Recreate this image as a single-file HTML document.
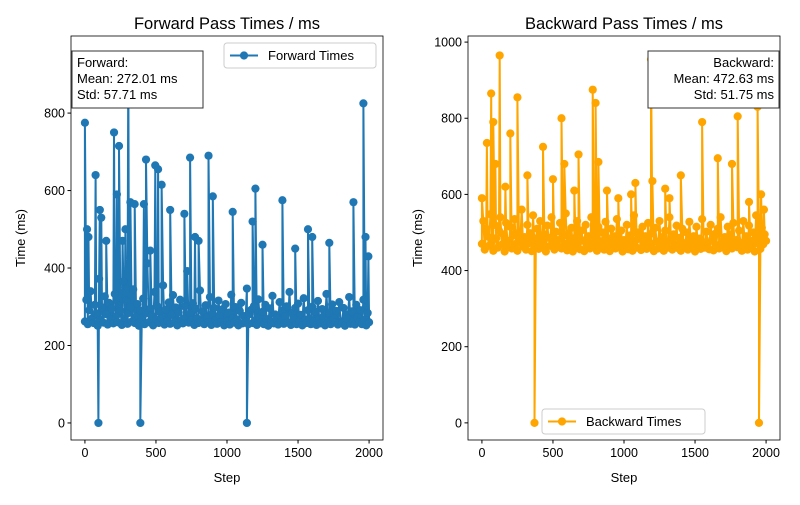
<!DOCTYPE html>
<html><head><meta charset="utf-8"><style>
body{margin:0;background:#fff}
svg{font-family:"Liberation Sans","DejaVu Sans",sans-serif}
</style></head><body>
<svg id="chart" width="800" height="500" viewBox="0 0 800 500" xmlns="http://www.w3.org/2000/svg"></svg>
<script>
// Forward baseline, one value every 10 steps (0..2000)
const fwdBase=[262,318,255,291,340,270,258,305,283,251,372,266,298,259,327,281,254,310,268,295,
257,333,276,260,302,289,253,365,271,316,256,284,299,262,345,258,274,307,251,290,
269,321,255,283,412,260,296,278,252,338,267,301,258,287,270,355,254,293,263,311,
256,279,330,261,298,252,286,318,266,257,301,274,392,259,283,264,309,253,295,270,
258,342,262,288,255,304,271,260,325,253,282,297,265,256,316,278,260,294,252,307,
263,285,254,331,270,259,299,267,252,289,310,257,276,263,347,255,281,292,258,302,
265,253,319,273,260,287,255,305,268,251,296,262,328,257,280,271,254,312,264,290,
256,276,301,259,338,253,284,269,297,255,308,262,279,252,322,266,258,291,270,255,
300,261,287,253,315,268,257,294,276,252,333,260,283,255,306,271,259,289,254,312,
262,258,297,251,280,269,325,256,288,263,254,305,273,260,291,255,318,266,252,284,260];
const fwdSpikeSteps=[0,15,25,75,95,105,115,150,205,225,240,265,285,305,320,350,390,415,430,460,495,515,540,600,700,740,775,800,870,900,1040,1140,1180,1200,1250,1390,1480,1570,1600,1720,1890,1960,1975,1995];
const fwdSpikeValues=[775,500,480,640,0,550,530,470,750,590,715,470,500,950,570,565,0,565,680,445,665,655,615,550,540,685,480,470,690,585,545,0,520,605,460,575,450,500,480,465,570,825,480,430];
// Backward baseline, one value every 10 steps
const bwdBase=[470,530,455,510,490,465,548,475,452,520,485,460,505,540,468,495,450,525,478,462,
515,458,492,535,470,452,500,480,560,463,488,455,520,472,498,451,545,466,484,510,
457,530,475,461,495,450,518,486,465,540,473,455,502,480,462,525,458,490,470,550,
453,498,468,512,450,485,462,530,474,456,505,479,451,520,467,490,458,540,472,460,
495,452,515,477,463,500,455,528,470,484,451,510,466,490,458,535,475,462,505,450,
480,465,520,456,492,470,452,545,478,460,500,485,454,515,468,490,457,525,473,462,
498,451,512,476,458,530,466,488,452,505,470,460,540,482,455,495,468,518,459,486,
452,510,472,461,500,455,528,479,463,490,450,515,468,484,457,535,474,460,502,470,
456,520,482,453,496,467,510,458,540,475,462,488,451,515,470,495,458,525,466,480,
461,505,473,452,530,468,490,455,518,478,463,500,450,545,472,486,457,512,469,495,478];
const bwdSpikeSteps=[0,35,65,80,95,125,165,200,250,320,370,430,500,560,580,650,680,780,800,820,880,960,1050,1080,1190,1200,1290,1320,1400,1550,1660,1760,1800,1880,1940,1950,1965,1985];
const bwdSpikeValues=[590,735,865,790,680,965,620,760,855,650,0,725,640,800,680,610,705,875,840,685,610,590,600,630,955,635,615,590,650,790,695,680,805,580,830,0,600,560];
const baseStep=10;
const fwdStats=["Forward:","Mean: 272.01 ms","Std: 57.71 ms"];
const bwdStats=["Backward:","Mean: 472.63 ms","Std: 51.75 ms"];
const xTicks=[0,500,1000,1500,2000];
const yTicksL=[0,200,400,600,800];
const yTicksR=[0,200,400,600,800,1000];
const svg=document.getElementById('chart');
const NS="http://www.w3.org/2000/svg";
function mk(tag,attrs,parent,text){const e=document.createElementNS(NS,tag);for(const k in attrs)e.setAttribute(k,attrs[k]);if(text!==undefined)e.textContent=text;(parent||svg).appendChild(e);return e;}
function merge(base,ss,sv){
  const pts=base.map((v,i)=>({s:i*baseStep,v:v,o:0}));
  ss.forEach((s,i)=>pts.push({s:s,v:sv[i],o:1}));
  pts.sort((a,b)=>a.s-b.s||a.o-b.o);
  return pts;
}
function panel(o){
  const g=mk('g',{});
  
  
  const sx=v=>o.x0+(v-o.xmin)/(o.xmax-o.xmin)*(o.x1-o.x0);
  const sy=v=>o.y1-(v-o.ymin)/(o.ymax-o.ymin)*(o.y1-o.y0);
  const pts=o.points;
  let d='';
  pts.forEach((p,i)=>{d+=(i?'L':'M')+sx(p.s).toFixed(1)+','+sy(p.v).toFixed(1);});
  const line=mk('path',{d:d,fill:'none',stroke:o.color,'stroke-width':2},g);
  
  
  pts.forEach(p=>{
    const c=mk('circle',{cx:sx(p.s),cy:sy(p.v),r:4.1,fill:o.color},g);
    
    
  });
  const frame=mk('rect',{x:o.x0,y:o.y0,width:o.x1-o.x0,height:o.y1-o.y0,fill:'none',stroke:'#000','stroke-width':0.8},g);
  
  
  xTicks.forEach(t=>{const x=sx(t);mk('line',{x1:x,x2:x,y1:o.y1,y2:o.y1+3.5,stroke:'#000'},g);
    const tl=mk('text',{x:x,y:o.y1+17,'font-size':12.5,'text-anchor':'middle'},g,t);
    });
  o.yTicks.forEach(t=>{const y=sy(t);mk('line',{x1:o.x0-3.5,x2:o.x0,y1:y,y2:y,stroke:'#000'},g);
    const tl=mk('text',{x:o.x0-6,y:y+4.5,'font-size':12.5,'text-anchor':'end'},g,t);
    });
  const title=mk('text',{x:(o.x0+o.x1)/2,y:29,'font-size':16.5,'text-anchor':'middle'},g,o.title);
  
  const xl=mk('text',{x:(o.x0+o.x1)/2,y:482,'font-size':13,'text-anchor':'middle'},g,'Step');
  
  const yx=o.x0-46, yy=(o.y0+o.y1)/2;
  const yl=mk('text',{x:yx,y:yy,'font-size':13,'text-anchor':'middle',transform:`rotate(-90 ${yx} ${yy})`},g,'Time (ms)');
  
  const sb=o.stats;
  const box=mk('rect',{x:sb.x,y:sb.y,width:131,height:57,fill:'#fff',stroke:'#333','stroke-width':1},g);
  
  o.statsText.forEach((s,i)=>{
    const t=mk('text',{x:sb.right?sb.x+126:sb.x+5,y:sb.y+16+i*16,'font-size':13,'text-anchor':sb.right?'end':'start'},g,s);
    
  });
  const lg=o.legend;
  const lgG=mk('g',{},g);
  
  mk('rect',{x:lg.x,y:lg.y,width:lg.w,height:25,rx:3,fill:'#fff',stroke:'#ccc'},lgG);
  mk('line',{x1:lg.x+6,x2:lg.x+34,y1:lg.y+12.5,y2:lg.y+12.5,stroke:o.color,'stroke-width':2},lgG);
  mk('circle',{cx:lg.x+20,cy:lg.y+12.5,r:4.1,fill:o.color},lgG);
  const lt=mk('text',{x:lg.x+44,y:lg.y+17,'font-size':13},lgG,o.label);
  
}
panel({name:'forward-panel',series:'forward',x0:71,x1:383,y0:36,y1:440,xmin:-98,xmax:2098,ymin:-44,ymax:999,
  points:merge(fwdBase,fwdSpikeSteps,fwdSpikeValues),color:'#1f77b4',yTicks:yTicksL,title:'Forward Pass Times / ms',
  stats:{x:72,y:51,right:false},statsText:fwdStats,legend:{x:224,y:43,w:152},label:'Forward Times'});
panel({name:'backward-panel',series:'backward',x0:468,x1:780,y0:36,y1:440,xmin:-98,xmax:2098,ymin:-45,ymax:1016,
  points:merge(bwdBase,bwdSpikeSteps,bwdSpikeValues),color:'#ffa500',yTicks:yTicksR,title:'Backward Pass Times / ms',
  stats:{x:648,y:51,right:true},statsText:bwdStats,legend:{x:542,y:409,w:163},label:'Backward Times'});
</script>
</body></html>
